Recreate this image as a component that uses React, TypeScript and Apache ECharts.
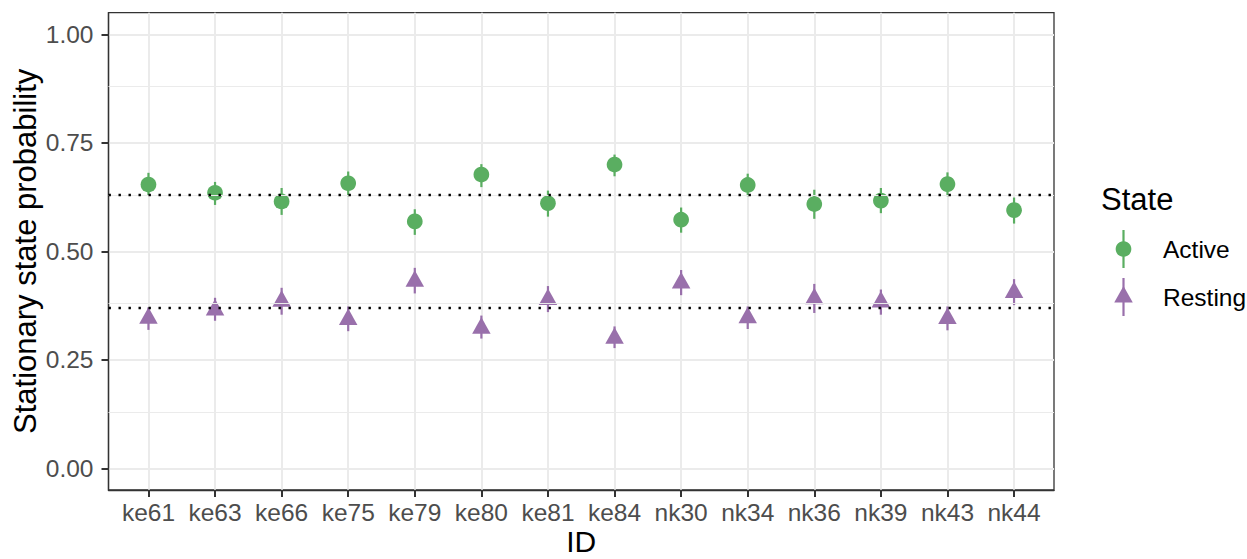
import React, { useEffect, useRef } from "react";
import * as echarts from "echarts";

// Individual IDs on the x axis
const IDS = ["ke61", "ke63", "ke66", "ke75", "ke79", "ke80", "ke81", "ke84", "nk30", "nk34", "nk36", "nk39", "nk43", "nk44"];

// Stationary probability of the Active state, with interval bounds
const ACTIVE_MEAN = [0.654, 0.635, 0.615, 0.657, 0.569, 0.677, 0.611, 0.7, 0.573, 0.653, 0.609, 0.617, 0.655, 0.595];
const ACTIVE_LOW = [0.629, 0.607, 0.584, 0.627, 0.538, 0.648, 0.58, 0.673, 0.543, 0.627, 0.575, 0.588, 0.627, 0.564];
const ACTIVE_HIGH = [0.681, 0.66, 0.646, 0.684, 0.597, 0.701, 0.64, 0.723, 0.601, 0.679, 0.642, 0.646, 0.682, 0.624];

// Stationary probability of the Resting state, with interval bounds
const RESTING_MEAN = [0.346, 0.365, 0.385, 0.343, 0.431, 0.323, 0.389, 0.3, 0.427, 0.347, 0.391, 0.383, 0.345, 0.405];
const RESTING_LOW = [0.319, 0.34, 0.354, 0.316, 0.403, 0.299, 0.36, 0.277, 0.399, 0.321, 0.358, 0.354, 0.318, 0.376];
const RESTING_HIGH = [0.371, 0.393, 0.416, 0.373, 0.462, 0.352, 0.42, 0.327, 0.457, 0.373, 0.425, 0.412, 0.373, 0.436];

// Population-level stationary probabilities (dotted reference lines)
const OVERALL = [0.63, 0.37];

const STATES = ["Active", "Resting"];
const Y_TICKS = [0, 0.25, 0.5, 0.75, 1];
const Y_MINOR = [0.125, 0.375, 0.625, 0.875];

const GREEN = "#5AAE61";
const PURPLE = "#9970AB";
const FONT = "'Liberation Sans', Arial, sans-serif";
const TICK_FONT = 24.5;
const TITLE_FONT = 31;
const TRI_W = 18.5;
const TRI_H = 16.5;
const BORDER = { color: "#333333", width: 1.3 };

function errorBars(low: number[], high: number[], color: string, name: string) {
  return {
    type: "custom",
    name,
    z: 2,
    renderItem: (_params: any, api: any) => {
      const x = api.value(0);
      const p1 = api.coord([x, api.value(1)]);
      const p2 = api.coord([x, api.value(2)]);
      return {
        type: "line",
        shape: { x1: p1[0], y1: p1[1], x2: p2[0], y2: p2[1] },
        style: { stroke: color, lineWidth: 2.2 },
      };
    },
    encode: { x: 0, y: [1, 2] },
    data: IDS.map((_, i) => [i, low[i], high[i]]),
  };
}

export default function App() {
  const ref = useRef<HTMLDivElement>(null);

  useEffect(() => {
    if (!ref.current) return;
    const chart = echarts.init(ref.current, null, { renderer: "svg" });
    const idx = IDS.map((_, i) => i);
    const kx = 1123.5;
    const ky1 = 249;
    const ky2 = 297;

    chart.setOption({
      animation: false,
      backgroundColor: "#FFFFFF",
      grid: {
        left: 108.5,
        right: 193,
        top: 12.7,
        bottom: 69,
        outerBoundsMode: "none",
        containLabel: false,
        show: true,
        borderColor: BORDER.color,
        borderWidth: BORDER.width,
        backgroundColor: "transparent",
      },
      xAxis: {
        type: "value",
        min: -0.6,
        max: 13.6,
        axisLine: { show: true, onZero: false, lineStyle: BORDER },
        axisTick: { show: true, inside: false, customValues: idx, length: 7, lineStyle: { color: "#333333", width: 2 } },
        axisLabel: {
          customValues: idx,
          formatter: (v: number) => IDS[Math.round(v)],
          color: "#4D4D4D",
          fontSize: TICK_FONT,
          fontFamily: FONT,
          margin: 10,
        },
        splitLine: { show: true, lineStyle: { color: "#EBEBEB", width: 2 } },
        name: "ID",
        nameLocation: "middle",
        nameMoveOverlap: false,
        nameGap: 36,
        nameTextStyle: { fontSize: 30, lineHeight: 30, color: "#000000", fontFamily: FONT },
      },
      yAxis: {
        type: "value",
        min: -0.05,
        max: 1.05,
        axisLine: { show: true, onZero: false, lineStyle: BORDER },
        axisTick: { show: true, inside: false, customValues: Y_TICKS, length: 7, lineStyle: { color: "#333333", width: 2 } },
        axisLabel: {
          customValues: Y_TICKS,
          formatter: (v: number) => v.toFixed(2),
          color: "#4D4D4D",
          fontSize: TICK_FONT,
          fontFamily: FONT,
          margin: 15,
        },
        splitLine: { show: true, lineStyle: { color: "#EBEBEB", width: 2 } },
        name: "Stationary state probability",
        nameLocation: "middle",
        nameMoveOverlap: false,
        nameGap: 68,
        nameRotate: 90,
        nameTextStyle: { fontSize: TITLE_FONT, color: "#000000", fontFamily: FONT },
      },
      series: [
        {
          type: "scatter",
          name: "grid",
          z: 1,
          silent: true,
          data: [],
          markLine: {
            silent: true,
            symbol: "none",
            label: { show: false },
            data: [
              ...Y_MINOR.map((v) => ({ yAxis: v, lineStyle: { color: "#EBEBEB", width: 1, type: "solid" } })),
              ...OVERALL.map((v) => ({ yAxis: v, lineStyle: { color: "#000000", width: 2.4, type: [2.4, 7.6], cap: "butt" } })),
            ],
          },
        },
        errorBars(ACTIVE_LOW, ACTIVE_HIGH, GREEN, STATES[0]),
        {
          type: "scatter",
          name: STATES[0],
          z: 3,
          symbol: "circle",
          symbolSize: 15.7,
          itemStyle: { color: GREEN, opacity: 1 },
          data: IDS.map((_, i) => [i, ACTIVE_MEAN[i]]),
        },
        errorBars(RESTING_LOW, RESTING_HIGH, PURPLE, STATES[1]),
        {
          type: "scatter",
          name: STATES[1],
          z: 3,
          symbol: "triangle",
          symbolSize: [TRI_W, TRI_H],
          symbolOffset: [0, -TRI_H / 6],
          itemStyle: { color: PURPLE, opacity: 1 },
          data: IDS.map((_, i) => [i, RESTING_MEAN[i]]),
        },
      ],
      graphic: [
        {
          type: "text",
          x: 1101,
          y: 199,
          style: { text: "State", fontSize: TITLE_FONT, fontFamily: FONT, fill: "#000000", align: "left", verticalAlign: "middle" },
        },
        { type: "line", shape: { x1: kx, y1: ky1 - 19, x2: kx, y2: ky1 + 19 }, style: { stroke: GREEN, lineWidth: 2.2 } },
        { type: "circle", shape: { cx: kx, cy: ky1, r: 7.85 }, style: { fill: GREEN } },
        {
          type: "text",
          x: 1163,
          y: ky1,
          style: { text: STATES[0], fontSize: TICK_FONT, fontFamily: FONT, fill: "#000000", align: "left", verticalAlign: "middle" },
        },
        { type: "line", shape: { x1: kx, y1: ky2 - 19, x2: kx, y2: ky2 + 19 }, style: { stroke: PURPLE, lineWidth: 2.2 } },
        {
          type: "polygon",
          shape: {
            points: [
              [kx, ky2 - (2 * TRI_H) / 3],
              [kx + TRI_W / 2, ky2 + TRI_H / 3],
              [kx - TRI_W / 2, ky2 + TRI_H / 3],
            ],
          },
          style: { fill: PURPLE },
        },
        {
          type: "text",
          x: 1163,
          y: ky2,
          style: { text: STATES[1], fontSize: TICK_FONT, fontFamily: FONT, fill: "#000000", align: "left", verticalAlign: "middle" },
        },
      ],
    });

    return () => chart.dispose();
  }, []);

  return <div ref={ref} style={{ position: "fixed", left: 0, top: 0, width: 1247, height: 559 }} />;
}
